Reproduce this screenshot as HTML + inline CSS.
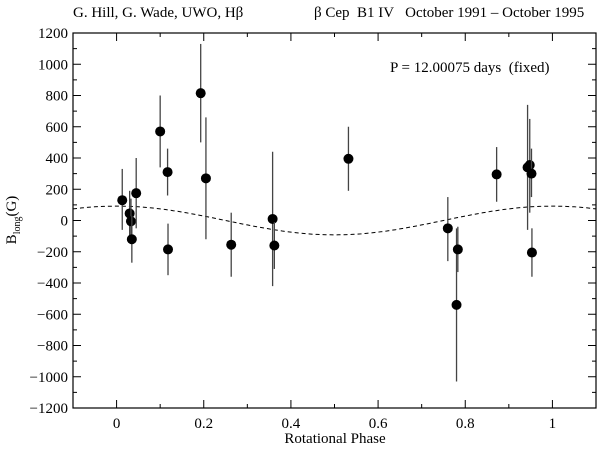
<!DOCTYPE html>
<html><head><meta charset="utf-8"><style>
body{margin:0;background:#fff}
svg text{font-family:"Liberation Serif",serif;fill:#000}
.pre{white-space:pre}
</style></head><body>
<svg width="600" height="446" viewBox="0 0 600 446" id="chart">
<text x="73" y="17" font-size="15">G. Hill, G. Wade, UWO, Hβ</text>
<text x="314" y="17" font-size="15" class="pre">β Cep  B1 IV   October 1991 – October 1995</text>
<text x="390" y="72" font-size="15" class="pre">P = 12.00075 days  (fixed)</text>
<text x="335" y="443" font-size="15" text-anchor="middle">Rotational Phase</text>
<text transform="translate(16,220) rotate(-90)" font-size="15" text-anchor="middle">B<tspan font-size="10" dy="4">long</tspan><tspan dy="-4">(G)</tspan></text>
<g id="axes"></g><g id="marks"></g>
</svg>
<script>
const phases=[0.013,0.030,0.033,0.035,0.045,0.100,0.117,0.118,0.193,0.205,0.263,0.358,0.362,0.532,0.760,0.780,0.783,0.872,0.943,0.948,0.952,0.953];
const bvals=[130,45,-5,-120,175,570,310,-185,815,270,-155,10,-160,395,-50,-540,-185,295,340,355,300,-205];
const errLo=[-60,-100,-150,-270,-50,340,160,-350,500,-120,-360,-420,-310,190,-260,-1030,-330,120,-60,50,150,-360];
const errHi=[330,190,140,30,400,800,460,-20,1130,660,50,440,-10,600,150,-50,-40,470,740,650,460,-50];
const xTicks=[0,0.2,0.4,0.6,0.8,1];
const xTickLabels=["0","0.2","0.4","0.6","0.8","1"];
const yTicks=[-1200,-1000,-800,-600,-400,-200,0,200,400,600,800,1000,1200];
const curveAmp=[92];
const L=73,R=596,T=33,B=408,x0=-0.1,x1=1.1,y0=-1200,y1=1200;
const X=v=>L+(v-x0)/(x1-x0)*(R-L);
const Y=v=>B-(v-y0)/(y1-y0)*(B-T);
const NS='http://www.w3.org/2000/svg';
function mk(tag,at,parent){const e=document.createElementNS(NS,tag);for(const k in at)e.setAttribute(k,at[k]);document.getElementById(parent).appendChild(e);return e;}
let frame=mk('rect',{x:L,y:T,width:R-L,height:B-T,fill:'none',stroke:'#000','stroke-width':1.2},'axes');


for(let v=-0.1;v<=1.1001;v+=0.1){const r=Math.round(v*10);const major=r%2===0;const len=major?8:4;const px=X(r/10);
 let t1=mk('line',{x1:px,x2:px,y1:B,y2:B-len,stroke:'#000'},'axes');
 
 
 let t2=mk('line',{x1:px,x2:px,y1:T,y2:T+len,stroke:'#000'},'axes');
 
 }
xTicks.forEach((v,i)=>{let t=mk('text',{x:X(v),y:428,'font-size':15,'text-anchor':'middle'},'axes');t.textContent=xTickLabels[i];
 
 });
for(let v=-1200;v<=1200;v+=100){const major=v%200===0;const len=major?8:4;const py=Y(v);
 let t1=mk('line',{x1:L,x2:L+len,y1:py,y2:py,stroke:'#000'},'axes');
 
 
 let t2=mk('line',{x1:R,x2:R-len,y1:py,y2:py,stroke:'#000'},'axes');
 
 }
yTicks.forEach(v=>{let t=mk('text',{x:L-5,y:Y(v)+5,'font-size':15,'text-anchor':'end'},'axes');t.textContent=v<0?'\u2212'+(-v):String(v);
 
 });
let d='';for(let i=0;i<=120;i++){const p=x0+i*(x1-x0)/120;d+=(i?'L':'M')+X(p).toFixed(1)+','+Y(curveAmp[0]*Math.cos(2*Math.PI*p)).toFixed(1);}
let c=mk('path',{d:d,fill:'none',stroke:'#000','stroke-width':1,'stroke-dasharray':'4,3'},'marks');


phases.forEach((p,i)=>{
 let e=mk('line',{x1:X(p),x2:X(p),y1:Y(errLo[i]),y2:Y(errHi[i]),stroke:'#444','stroke-width':1.3},'marks');
 
 
 let pt=mk('circle',{cx:X(p),cy:Y(bvals[i]),r:5,fill:'#000'},'marks');
 
 
});
</script>
</body></html>
